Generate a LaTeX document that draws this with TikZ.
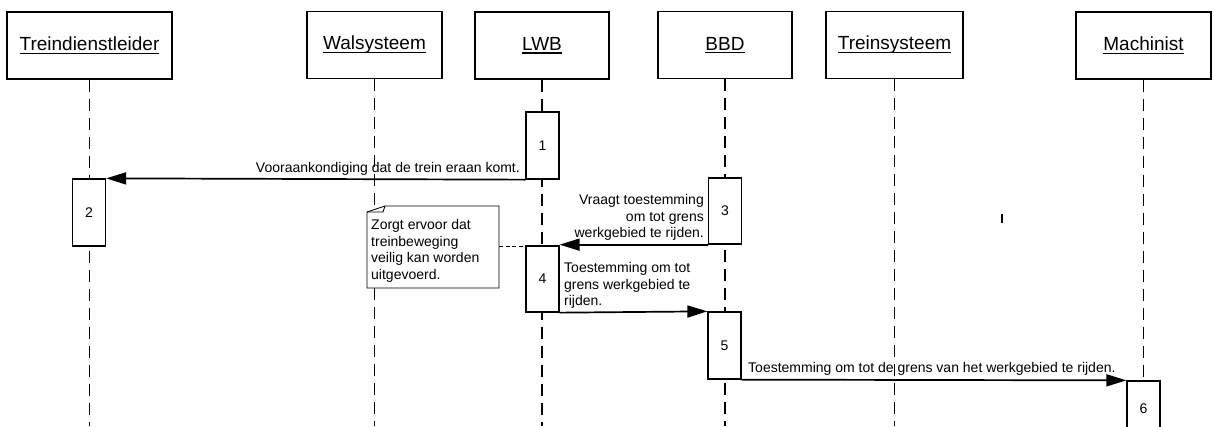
\documentclass[tikz,border=0pt]{standalone}
\usepackage{fontspec}
\setmainfont{Liberation Sans}
\usetikzlibrary{arrows.meta,calc}
% underline at a fixed distance below the baseline
\newcommand\hdrline[1]{\setbox0\hbox{#1}\rlap{\rule[-3pt]{\wd0}{1.1pt}}\box0}
\begin{document}
\begin{tikzpicture}[x=1pt,y=-1pt,
  actor/.style={draw, line width=1.3pt, fill=white, minimum height=67pt,
    inner sep=0pt, font=\fontsize{19}{22}\selectfont},
  lifeline/.style={line width=1.8pt, dash pattern=on 12pt off 7pt},
  act/.style={draw, line width=1.3pt, fill=white, minimum width=33pt,
    minimum height=66pt, inner sep=0pt, font=\fontsize{14}{17}\selectfont},
  msg/.style={line width=1.7pt, -{Triangle[length=20pt,width=12pt]}},
  lbl/.style={inner sep=0pt, font=\fontsize{14}{16.7}\selectfont},
  notebox/.style={line width=0.9pt, fill=white},
  notelink/.style={line width=0.9pt, dash pattern=on 4pt off 2.5pt}
]
\useasboundingbox (0,0) rectangle (1214,426);
\clip (0,0) rectangle (1214,426);
\coordinate (bottom) at (0,426);

% object headers
\node[actor, minimum width=165pt] (hT) at (89.5,45.5) {\hdrline{Treindienstleider}};
\node[actor, minimum width=135pt] (hW) at (374.5,45) {\hdrline{Walsysteem}};
\node[actor, minimum width=134pt] (hL) at (542,45.5) {\hdrline{LWB}};
\node[actor, minimum width=134pt] (hB) at (725,45) {\hdrline{BBD}};
\node[actor, minimum width=137pt] (hR) at (894.5,45) {\hdrline{Treinsysteem}};
\node[actor, minimum width=135pt] (hM) at (1143.5,45.5) {\hdrline{Machinist}};

% lifelines
\foreach \h in {hT,hW,hL,hB,hR,hM}
  \draw[lifeline] (\h.south) -- (\h.south |- bottom);

% activation bars
\node[act, minimum height=67pt] (b1) at (542.5,145.5) {1};
\node[act, minimum height=67pt] (b2) at (89,212.5) {2};
\node[act] (b3) at (725,211) {3};
\node[act] (b4) at (542.5,279) {4};
\node[act, minimum height=67pt] (b5) at (724.5,345.5) {5};
\node[act, minimum height=56pt] (b6) at (1143.5,409) {6};

% messages
\draw[msg] (b1.south west) -- (b2.north east);
\node[lbl, anchor=base east] (m1) at (520,172) {Vooraankondiging dat de trein eraan komt.};

\draw[msg] (b3.south west) -- (b3.south west -| b4.east);
\node[lbl, anchor=north east, align=right] (m2) at (704,194)
  {Vraagt toestemming\\om tot grens\\werkgebied te rijden.};

\draw[msg] (b4.south east) -- (b5.north west);
\node[lbl, anchor=north west, align=left] (m3) at (564,262)
  {Toestemming om tot\\grens werkgebied te\\rijden.};

\draw[msg] (b5.south east) -- (b6.north west);
\node[lbl, anchor=base west] (m4) at (748,372)
  {Toestemming om tot de grens van het werkgebied te rijden.};

% note with folded corner
\coordinate (nNW) at (367,206);
\coordinate (nSE) at (499,288);
\draw[notebox] ($(nNW)+(18,0)$) -- (nNW -| nSE) -- (nSE) -- (nSE -| nNW)
  -- ($(nNW)+(0,6)$) -- cycle;
\draw[line width=0.9pt] (367,212) -- (383,212) -- (385,206);
\node[lbl, anchor=north west, align=left] (note) at (371,219)
  {Zorgt ervoor dat\\treinbeweging\\veilig kan worden\\uitgevoerd.};
\coordinate (nE) at (499,246);
\draw[notelink] (nE) -- (nE -| b4.west);

% small stray mark
\draw[line width=1.6pt] (1002,214) -- (1002,223);
\end{tikzpicture}
\end{document}
